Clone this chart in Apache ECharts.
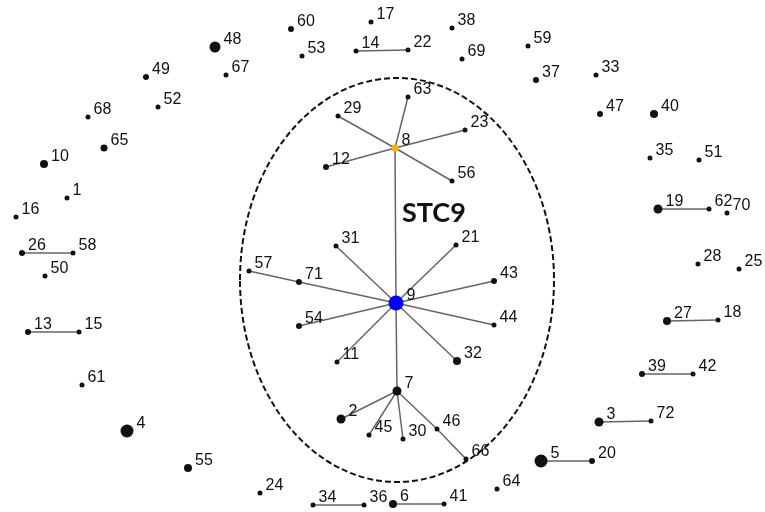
<!DOCTYPE html>
<html>
<head>
<meta charset="utf-8">
<script src="https://cdn.jsdelivr.net/npm/echarts@6/dist/echarts.min.js"></script>
<style>
  html, body { margin: 0; padding: 0; background: #fff; }
  #chart { width: 765px; height: 512px; }
</style>
</head>
<body>
<div id="chart"></div>
<script>
// node ids, layout position (layout units) and node weight
const nodeNames = ['48', '67', '49', '52', '68', '65', '10', '1', '16', '26', '58',
  '60', '17', '38', '53', '14', '22', '69', '63', '29', '23', '8', '12', '56', '31', '21',
  '59', '37', '33', '47', '40', '35', '51', '19', '62', '70',
  '50', '13', '15', '61', '4', '55',
  '57', '71', '43', '9', '54', '44', '11', '32', '7', '2', '45', '30', '46', '66',
  '24', '34', '36', '6', '41', '64',
  '28', '25', '27', '18', '39', '42', '3', '72', '5', '20']
const layoutX = [215, 226, 146, 158, 88, 104, 44, 67, 16, 22, 73,
  291, 371, 452, 302, 356, 408, 462, 408, 338, 465, 395, 326, 452, 336, 456,
  528, 536, 596, 600, 654, 650, 699, 658, 709, 727,
  45, 28, 79, 82, 127, 188,
  249, 299, 494, 396, 299, 494, 337, 457, 397, 341, 369, 403, 437, 466,
  260, 313, 364, 393, 444, 497,
  698, 739, 667, 718, 642, 693, 599, 651, 541, 592]
const layoutY = [47, 75, 77, 107, 117, 148, 164, 198, 217, 253, 253,
  29, 22, 28, 56, 51, 50, 59, 97, 116, 130, 148, 167, 181, 246, 245,
  46, 80, 75, 114, 114, 158, 160, 209, 209, 213,
  276, 332, 332, 385, 431, 468,
  271, 282, 281, 303, 326, 325, 362, 361, 391, 419, 435, 439, 429, 459,
  493, 505, 505, 504, 504, 489,
  264, 269, 321, 320, 374, 374, 422, 421, 461, 461]
const nodeWeight = [11, 5, 6, 5, 5, 7, 8, 5, 5, 6, 5,
  6, 5, 5, 5, 5, 5, 5, 5, 5, 5, 7, 6, 5, 5, 5,
  5, 6, 5, 6, 8, 5, 5, 9, 5, 5,
  5, 6, 5, 5, 13, 8,
  5, 6, 6, 15, 6, 5, 5, 8, 9, 9, 5, 5, 5, 5,
  5, 5, 5, 8, 5, 5,
  5, 5, 8, 5, 6, 5, 9, 5, 13, 6]
const edges = [
  ['14', '22'], ['26', '58'], ['13', '15'], ['19', '62'], ['27', '18'],
  ['39', '42'], ['3', '72'], ['5', '20'], ['34', '36'], ['6', '41'],
  ['8', '63'], ['8', '29'], ['8', '23'], ['8', '12'], ['8', '56'], ['8', '9'],
  ['9', '31'], ['9', '21'], ['9', '71'], ['71', '57'], ['9', '43'], ['9', '54'],
  ['9', '44'], ['9', '11'], ['9', '32'], ['9', '7'],
  ['7', '2'], ['7', '45'], ['7', '30'], ['7', '46'], ['46', '66']
]
// community outline (centre and radii in layout units)
const cluster = { name: 'STC9', cx: 397, cy: 280, rx: 157, ry: 202 }

const nodeColor = name => name === '9' ? '#0000ff' : name === '8' ? '#f5b400' : '#111'

const chart = echarts.init(document.getElementById('chart'))
chart.setOption({
  animation: false,
  grid: { left: 0, right: 0, top: 0, bottom: 0 },
  xAxis: { type: 'value', min: 0, max: 765, show: false },
  yAxis: { type: 'value', min: 0, max: 512, inverse: true, show: false },
  series: [{
    type: 'graph',
    layout: 'none',
    coordinateSystem: 'cartesian2d',
    symbol: 'circle',
    data: nodeNames.map((name, i) => ({
      name,
      value: [layoutX[i], layoutY[i]],
      symbolSize: nodeWeight[i],
      itemStyle: { color: nodeColor(name) }
    })),
    links: edges.map(([source, target]) => ({ source, target })),
    lineStyle: { color: '#666', width: 1.5, opacity: 1 },
    label: {
      show: true,
      position: 'right',
      distance: 3,
      offset: [0, -7],
      formatter: '{b}',
      color: '#111',
      fontFamily: 'Liberation Sans, Arial',
      fontSize: 16
    },
    emphasis: { disabled: true }
  }]
})

// outline + community name placed via the axis scales
const c = chart.convertToPixel({ gridIndex: 0 }, [cluster.cx, cluster.cy])
const edge = chart.convertToPixel({ gridIndex: 0 }, [cluster.cx + cluster.rx, cluster.cy + cluster.ry])
const tag = chart.convertToPixel({ gridIndex: 0 }, [cluster.cx + 5, cluster.cy - 67])
chart.setOption({
  graphic: [
    {
      type: 'ellipse',
      silent: true,
      z: -1,
      shape: { cx: c[0], cy: c[1], rx: edge[0] - c[0], ry: edge[1] - c[1] },
      style: { fill: 'none', stroke: '#111', lineWidth: 2, lineDash: [6, 3] }
    },
    {
      type: 'text',
      silent: true,
      x: tag[0],
      y: tag[1],
      style: {
        text: cluster.name,
        font: 'bold 27px Lato, "Open Sans", sans-serif',
        fill: '#111',
        textVerticalAlign: 'middle'
      }
    }
  ]
})
</script>
</body>
</html>
